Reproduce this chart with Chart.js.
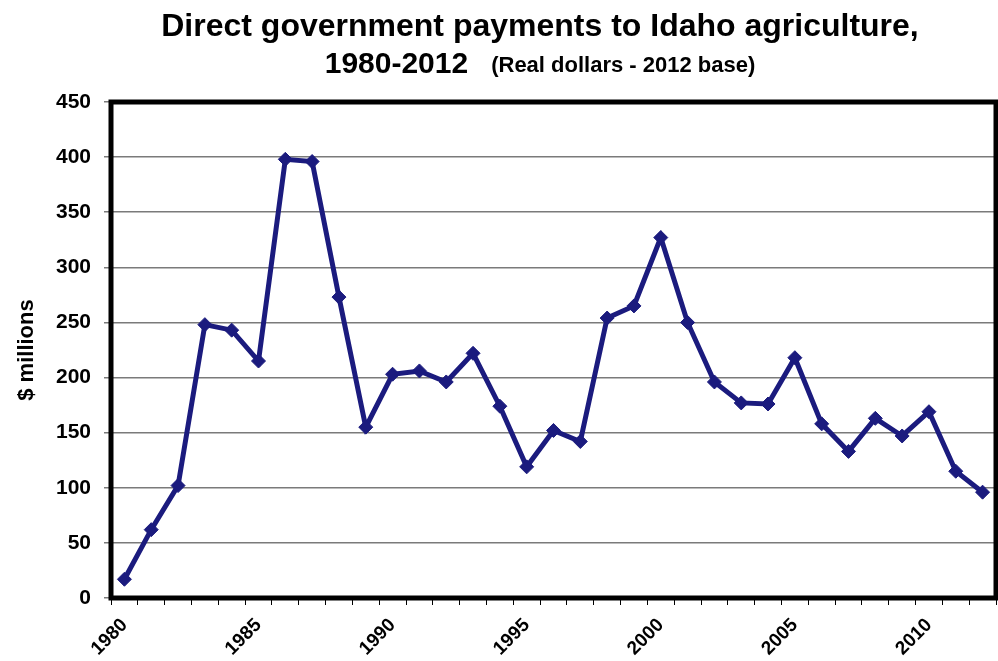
<!DOCTYPE html>
<html>
<head>
<meta charset="utf-8">
<script src="https://cdn.jsdelivr.net/npm/chart.js@4.4.1/dist/chart.umd.min.js"></script>
<style>
  body { margin: 0; background: #fff; }
</style>
</head>
<body>
<canvas id="payChart" width="998" height="661"></canvas>
<script>
// years on the x axis, payments in $ millions (2012 dollars)
var years = [];
for (var y = 1980; y <= 2012; y++) years.push(String(y));
var payments = [
  17, 62, 102, 248, 243, 215, 398, 396, 273, 155,
  203, 206, 196, 222, 174, 119, 152, 142, 254, 265,
  327, 250, 196, 177, 176, 218, 158, 133, 163, 147,
  169, 115, 96
];
var y_ticks = [0, 50, 100, 150, 200, 250, 300, 350, 400, 450];
var title_line1 = "Direct government payments to Idaho agriculture,";
var title_line2 = "1980-2012";
var title_note = "(Real dollars - 2012 base)";

var font_family = "'Liberation Sans', Arial, sans-serif";
var line_color = "#1b1b7e";

// two line heading, the second one has a smaller note after the years
var heading_plugin = {
  id: "heading",
  afterDraw: function (chart) {
    var ctx = chart.ctx;
    var cx = 540;
    ctx.save();
    ctx.fillStyle = "#000";
    ctx.textBaseline = "alphabetic";
    ctx.textAlign = "center";
    ctx.font = "bold 32px " + font_family;
    ctx.fillText(title_line1, cx, 36);

    ctx.font = "bold 30px " + font_family;
    var w1 = ctx.measureText(title_line2).width;
    ctx.font = "bold 22px " + font_family;
    var w2 = ctx.measureText(title_note).width;
    var gap = 23;
    var x0 = cx - (w1 + gap + w2) / 2;
    ctx.textAlign = "left";
    ctx.font = "bold 30px " + font_family;
    ctx.fillText(title_line2, x0, 73);
    ctx.font = "bold 22px " + font_family;
    ctx.fillText(title_note, x0 + w1 + gap, 72);
    ctx.restore();
  },
};

// heavy black frame round the plot area
var frame_plugin = {
  id: "frame",
  afterDraw: function (chart) {
    var a = chart.chartArea;
    var ctx = chart.ctx;
    ctx.save();
    ctx.strokeStyle = "#000";
    ctx.lineWidth = 5;
    ctx.strokeRect(a.left, a.top, a.right - a.left, a.bottom - a.top);
    ctx.restore();
  },
};

var ctx = document.getElementById("payChart").getContext("2d");
var payChart = new Chart(ctx, {
  type: "line",
  data: {
    labels: years,
    datasets: [
      {
        label: "Direct payments",
        data: payments,
        borderColor: line_color,
        backgroundColor: line_color,
        borderWidth: 5,
        tension: 0,
        pointStyle: "rectRot",
        pointRadius: 7,
        pointBorderWidth: 1,
        fill: false,
      },
    ],
  },
  options: {
    responsive: false,
    animation: false,
    layout: {
      autoPadding: false,
      padding: { top: 102, right: 2, left: 0, bottom: 0 },
    },
    plugins: {
      legend: { display: false },
      tooltip: { enabled: false },
    },
    scales: {
      x: {
        type: "category",
        offset: true,
        grid: {
          offset: true,
          drawOnChartArea: false,
          tickLength: 7,
          color: "#000",
          lineWidth: 1,
        },
        border: { display: false },
        ticks: {
          autoSkip: false,
          maxRotation: 45,
          minRotation: 45,
          color: "#000",
          font: { family: font_family, size: 19, weight: "bold" },
          padding: 9,
          callback: function (val, idx) {
            return Number(years[idx]) % 5 === 0 ? years[idx] : "";
          },
        },
        afterFit: function (scale) {
          scale.height = 63;
          scale.paddingLeft = 0;
          scale.paddingRight = 0;
        },
      },
      y: {
        min: 0,
        max: 450,
        afterBuildTicks: function (scale) {
          scale.ticks = y_ticks.map(function (v) { return { value: v }; });
        },
        grid: {
          color: "#7a7a7a",
          lineWidth: 1.5,
          tickLength: 7,
        },
        border: { display: false },
        ticks: {
          color: "#000",
          font: { family: font_family, size: 21, weight: "bold" },
          padding: 13,
        },
        title: {
          display: true,
          text: "$ millions",
          color: "#000",
          font: { family: font_family, size: 22, weight: "bold" },
          padding: { top: 14, bottom: 0 },
        },
        afterFit: function (scale) {
          scale.width = 111;
          scale.paddingTop = 0;
          scale.paddingBottom = 0;
        },
      },
    },
  },
  plugins: [frame_plugin, heading_plugin],
});
</script>
</body>
</html>
